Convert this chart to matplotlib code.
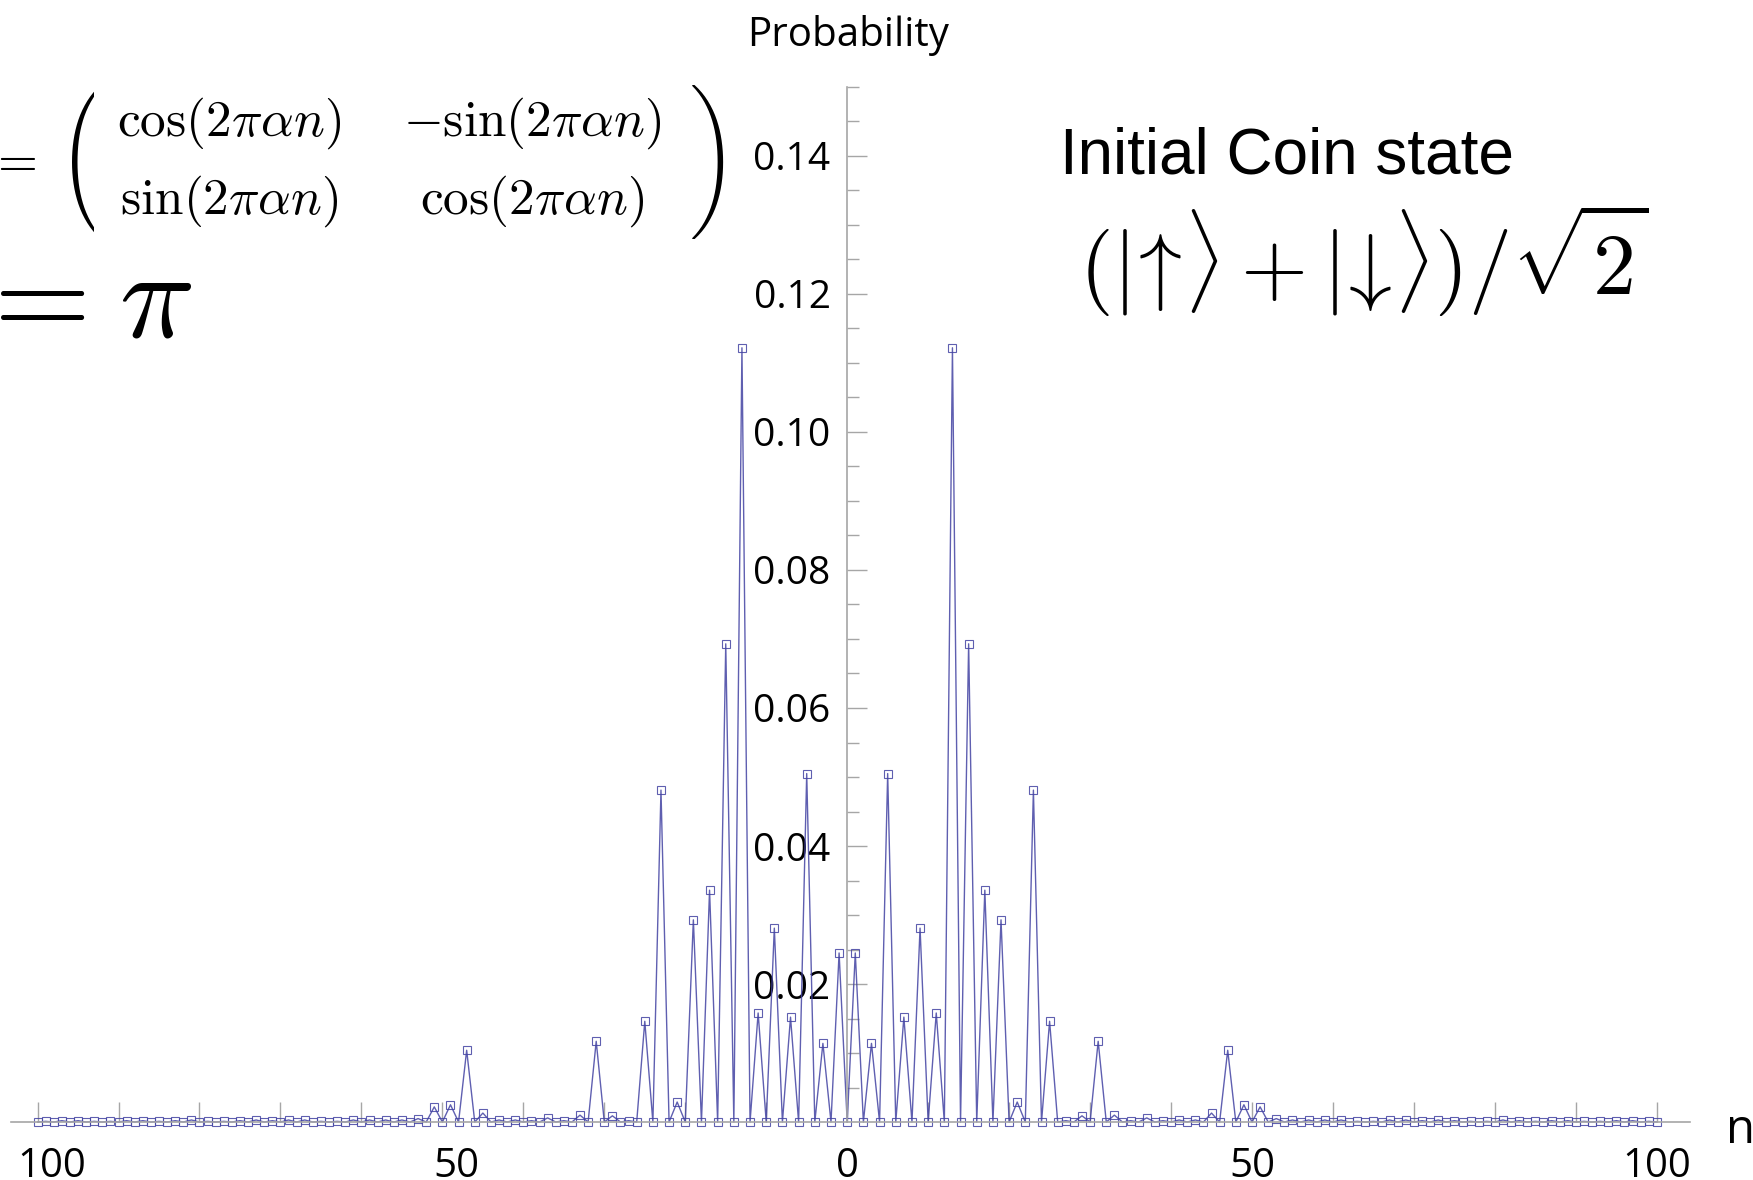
import numpy as np
import matplotlib.pyplot as plt
from matplotlib.ticker import FixedLocator, FuncFormatter
from matplotlib.transforms import Bbox, TransformedBbox

plt.rcParams['font.family'] = ['Open Sans', 'DejaVu Sans']
plt.rcParams['mathtext.fontset'] = 'cm'

# probability on the odd sites n = 1, 3, ..., 99 (the walk is symmetric,
# even sites are zero)
odd_sites = np.arange(1, 100, 2)
prob_odd = [
    0.0245, 0.0114, 0.0505, 0.0152, 0.0281, 0.0158, 0.1122, 0.0693, 0.0336, 0.0293,  # 1..19
    0.0029, 0.0481, 0.0146, 0.0002, 0.0009, 0.0117, 0.0010, 0.0002, 0.0006, 0.0002,  # 21..39
    0.0003, 0.0003, 0.0013, 0.0104, 0.0025, 0.0022, 0.0005, 0.0003, 0.0003, 0.0003,  # 41..59
    0.0003, 0.0001, 0.0001, 0.0003, 0.0003, 0.0002, 0.0003, 0.0002, 0.0001, 0.0001,  # 61..79
    0.0003, 0.0002, 0.0001, 0.0002, 0.0002, 0.0001, 0.0001, 0.0002, 0.0002, 0.0001,  # 81..99
]
prob_odd = np.array(prob_odd)

n = np.arange(-100, 101)
prob = np.zeros(n.size)
prob[np.isin(n, odd_sites)] = prob_odd
prob[np.isin(n, -odd_sites)] = prob_odd[::-1]

y_major = [0.02, 0.04, 0.06, 0.08, 0.10, 0.12, 0.14]
y_minor = [0.005 * k for k in range(1, 31) if k % 4]
x_major = [-100, -50, 0, 50, 100]
x_labels = ['100', '50', '0', '50', '100']
x_minor = [v for v in range(-90, 100, 10) if v % 50]

W, H = 1753, 1180
fig = plt.figure(figsize=(W / 100, H / 100), dpi=100)
ax = fig.add_axes([0, 0, 1, 1])
ax.set_xlim(-104.64, 111.88)
ax.set_ylim(-0.0084, 0.1626)

ax.plot(n, prob, color='#4343a3', lw=1.0, alpha=0.85,
        marker='s', ms=5.2, mfc='none', mew=0.8)

axis_col = '#a6a6a6'
ax.spines['top'].set_visible(False)
ax.spines['right'].set_visible(False)
ax.spines['left'].set_position(('data', 0))
ax.spines['bottom'].set_position(('data', 0))
ax.spines['left'].set_bounds(0, 0.150)
ax.spines['bottom'].set_bounds(-103.3, 104.1)
for s in ['left', 'bottom']:
    ax.spines[s].set_color(axis_col)
    ax.spines[s].set_linewidth(1.2)

ax.yaxis.set_major_locator(FixedLocator(y_major))
ax.yaxis.set_minor_locator(FixedLocator(y_minor))
ax.yaxis.set_major_formatter(FuncFormatter(lambda v, p: f'{v:.2f}'))
ax.xaxis.set_major_locator(FixedLocator(x_major))
ax.xaxis.set_minor_locator(FixedLocator(x_minor))

ax.tick_params(axis='y', which='major', direction='in', length=14.4, width=1,
               color=axis_col, labelsize=28, pad=12)
ax.tick_params(axis='y', which='minor', direction='in', length=8.6, width=1, color=axis_col)
ax.tick_params(axis='x', which='both', direction='in', length=14.4, width=1,
               color=axis_col, labelbottom=False)

# x labels without the minus sign; the left ones keep the minus' room, so they sit a bit right
for v, lbl in zip(x_major, x_labels):
    dx = 10 if v < 0 else 0
    ax.annotate(lbl, xy=(v, 0), xytext=(dx, -32), textcoords='offset points',
                fontsize=29, ha='center', va='center')


def px(x, y):
    return x / W, 1 - y / H


def clip_to(t, x0, y0, x1, y1):
    bb = Bbox.from_extents(x0 / W, 1 - y1 / H, x1 / W, 1 - y0 / H)
    t.set_clip_box(TransformedBbox(bb, fig.transFigure))
    t.set_clip_on(True)


fig.text(*px(848, 36), 'Probability', fontsize=29, ha='center', va='center')
fig.text(*px(1741, 1130), 'n', fontsize=34, ha='center', va='center')

fig.text(*px(1060, 173), 'Initial Coin state', fontsize=46,
         family='Liberation Sans', ha='left', va='baseline')
fig.text(*px(1079, 294),
         r'$(|\!\uparrow\!\rangle + |\!\downarrow\!\rangle)/\sqrt{2}$',
         fontsize=62, ha='left', va='baseline')

# coin matrix
entry = r'2\pi\alpha n'
fig.text(*px(-12, 162), r'$=$', fontsize=37, ha='left', va='center')
fig.text(*px(229, 123), r'$\cos(' + entry + ')$', fontsize=37, ha='center', va='center')
fig.text(*px(532, 123), r'$-\sin(' + entry + ')$', fontsize=37, ha='center', va='center')
fig.text(*px(229, 201), r'$\sin(' + entry + ')$', fontsize=37, ha='center', va='center')
fig.text(*px(532, 201), r'$\cos(' + entry + ')$', fontsize=37, ha='center', va='center')

# tall brackets: sized to a two-row stack, only the bracket itself is left visible
col = r'\genfrac{}{}{0}{0}{\cos(' + entry + r')}{\sin(' + entry + ')}'
lp = fig.text(*px(58, 162), r'$\left(' + col + r'\right.$',
              fontsize=48, ha='left', va='center')
clip_to(lp, 30, 60, 94, 265)
rp = fig.text(*px(724, 162), r'$\left.' + col + r'\right)$',
              fontsize=48, ha='right', va='center')
clip_to(rp, 688, 60, 760, 265)

fig.text(*px(-28, 304), r'$=\hspace{0.06}\pi$', fontsize=90, ha='left', va='center')

fig.savefig('out.png', dpi=100, facecolor='white')
